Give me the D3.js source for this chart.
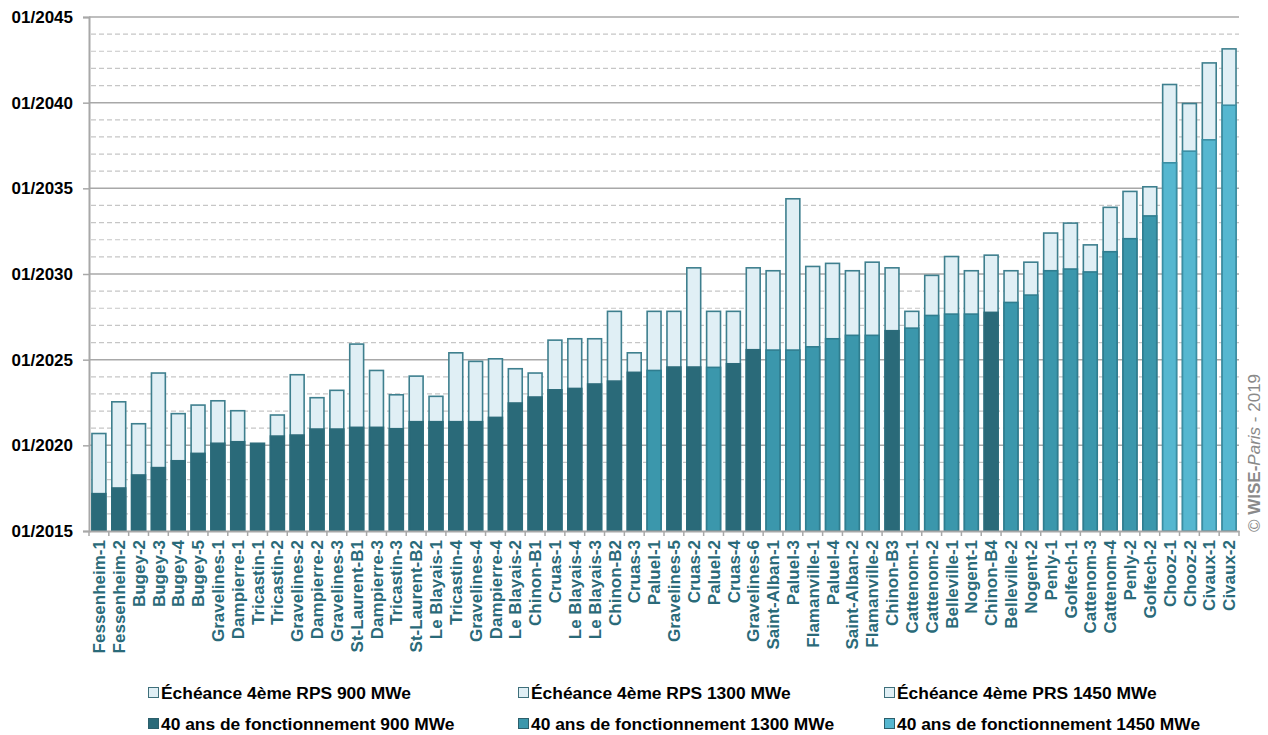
<!DOCTYPE html>
<html>
<head>
<meta charset="utf-8">
<script src="https://cdn.jsdelivr.net/npm/d3@7"></script>
<style>
  html, body { margin: 0; padding: 0; background: #ffffff; }
  svg { display: block; font-family: "Liberation Sans", Arial, sans-serif; }
</style>
</head>
<body>
<svg id="chart" width="1268" height="735"></svg>
<script>
// ---------- data ----------
const reactors = ["Fessenheim-1","Fessenheim-2","Bugey-2","Bugey-3","Bugey-4","Bugey-5","Gravelines-1","Dampierre-1","Tricastin-1","Tricastin-2","Gravelines-2","Dampierre-2","Gravelines-3","St-Laurent-B1","Dampierre-3","Tricastin-3","St-Laurent-B2","Le Blayais-1","Tricastin-4","Gravelines-4","Dampierre-4","Le Blayais-2","Chinon-B1","Cruas-1","Le Blayais-4","Le Blayais-3","Chinon-B2","Cruas-3","Paluel-1","Gravelines-5","Cruas-2","Paluel-2","Cruas-4","Gravelines-6","Saint-Alban-1","Paluel-3","Flamanville-1","Paluel-4","Saint-Alban-2","Flamanville-2","Chinon-B3","Cattenom-1","Cattenom-2","Belleville-1","Nogent-1","Chinon-B4","Belleville-2","Nogent-2","Penly-1","Golfech-1","Cattenom-3","Cattenom-4","Penly-2","Golfech-2","Chooz-1","Chooz-2","Civaux-1","Civaux-2"];
const power = [900,900,900,900,900,900,900,900,900,900,900,900,900,900,900,900,900,900,900,900,900,900,900,900,900,900,900,900,1300,900,900,1300,900,900,1300,1300,1300,1300,1300,1300,900,1300,1300,1300,1300,900,1300,1300,1300,1300,1300,1300,1300,1300,1450,1450,1450,1450];
// date of 40 years of operation (decimal year)
const fortyYears = [2017.18,2017.51,2018.27,2018.70,2019.10,2019.53,2020.12,2020.21,2020.12,2020.54,2020.60,2020.95,2020.95,2021.05,2021.05,2020.97,2021.38,2021.38,2021.38,2021.38,2021.63,2022.47,2022.82,2023.24,2023.32,2023.58,2023.75,2024.26,2024.37,2024.57,2024.57,2024.55,2024.76,2025.58,2025.56,2025.56,2025.75,2026.22,2026.42,2026.42,2026.69,2026.84,2027.58,2027.66,2027.66,2027.76,2028.34,2028.77,2030.19,2030.29,2030.12,2031.30,2032.06,2033.39,2036.49,2037.17,2037.83,2039.85];
// deadline of 4th periodic safety review (decimal year)
const rpsDeadline = [2020.69,2022.54,2021.26,2024.22,2021.85,2022.35,2022.60,2022.02,2020.00,2021.77,2024.12,2022.78,2023.21,2025.91,2024.37,2022.95,2024.04,2022.86,2025.40,2024.90,2025.05,2024.47,2024.22,2026.14,2026.22,2026.22,2027.82,2025.40,2027.82,2027.82,2030.36,2027.82,2027.82,2030.36,2030.19,2034.39,2030.44,2030.62,2030.19,2030.69,2030.36,2027.82,2029.92,2031.02,2030.19,2031.10,2030.19,2030.69,2032.39,2032.97,2031.70,2033.89,2034.82,2035.09,2041.06,2039.95,2042.32,2043.14];
const yearTicks = [2015,2020,2025,2030,2035,2040,2045];
const legendLabels = ["Échéance 4ème RPS 900 MWe","Échéance 4ème RPS 1300 MWe","Échéance 4ème PRS 1450 MWe","40 ans de fonctionnement 900 MWe","40 ans de fonctionnement 1300 MWe","40 ans de fonctionnement 1450 MWe"];
const legendPower = [900,1300,1450,900,1300,1450];

// ---------- styles ----------
const darkColor = {900: "#2a6a79", 1300: "#3b97ac", 1450: "#56b7d0"};
const strokeColor = {900: "#2c6b7a", 1300: "#2f7d8f", 1450: "#3a8ea3"};
const lightFill = "#e0eff5";
const lightStroke = "#3e7f8e";

const svg = d3.select("#chart");
const plotLeft = 89, plotRight = 1239, plotTop = 17, plotBottom = 531;

const x = d3.scaleBand().domain(reactors).range([plotLeft, plotRight]).paddingInner(0.3).paddingOuter(0.15);
const y = d3.scaleLinear().domain([2015, 2045]).range([plotBottom, plotTop]);

// minor grid (yearly dashed)
const minorYears = d3.range(2016, 2045).filter(v => v % 5 !== 0);
svg.append("g").selectAll("line").data(minorYears).join("line")
  .attr("x1", plotLeft + 2).attr("x2", plotRight)
  .attr("y1", d => y(d)).attr("y2", d => y(d))
  .attr("stroke", "#c6c6c6").attr("stroke-width", 1.2).attr("stroke-dasharray", "5,3");

// major grid
svg.append("g").selectAll("line").data(yearTicks.filter(v => v > 2015)).join("line")
  .attr("x1", plotLeft).attr("x2", plotRight)
  .attr("y1", d => y(d)).attr("y2", d => y(d))
  .attr("stroke", "#a8a8a8").attr("stroke-width", 1.5);

// bars
const data = reactors.map((n, i) => ({name: n, p: power[i], forty: fortyYears[i], rps: rpsDeadline[i]}));
const bars = svg.append("g");
bars.selectAll("rect.light").data(data.filter(d => d.rps > d.forty)).join("rect")
  .attr("class", "light")
  .attr("x", d => x(d.name)).attr("width", x.bandwidth())
  .attr("y", d => y(d.rps)).attr("height", d => y(2015) - y(d.rps))
  .attr("fill", lightFill).attr("stroke", lightStroke).attr("stroke-width", 1.6);
bars.selectAll("rect.dark").data(data).join("rect")
  .attr("class", "dark")
  .attr("x", d => x(d.name)).attr("width", x.bandwidth())
  .attr("y", d => y(d.forty)).attr("height", d => y(2015) - y(d.forty))
  .attr("fill", d => darkColor[d.p]).attr("stroke", d => strokeColor[d.p]).attr("stroke-width", 1.6);

// y axis
const yAxis = d3.axisLeft(y).tickValues(yearTicks).tickSize(6).tickPadding(10).tickFormat(d => "01/" + d);
const gy = svg.append("g").attr("transform", `translate(${plotLeft},0)`).call(yAxis);
gy.select(".domain").attr("stroke", "#a8a8a8").attr("stroke-width", 2);
gy.selectAll(".tick line").attr("stroke", "#a8a8a8").attr("stroke-width", 1.5);
gy.selectAll(".tick text").attr("font-size", 17).attr("font-weight", "bold").attr("fill", "#000")
  .attr("font-family", "Liberation Sans, Arial, sans-serif");

// x axis
const xAxis = d3.axisBottom(x).tickSize(0).tickPadding(0);
const gx = svg.append("g").attr("transform", `translate(0,${plotBottom})`).call(xAxis);
gx.select(".domain").attr("stroke", "#a8a8a8").attr("stroke-width", 2);
gx.selectAll(".tick text")
  .attr("transform", "rotate(-90)")
  .attr("x", -9).attr("y", 0).attr("dy", "0.36em")
  .attr("text-anchor", "end")
  .attr("font-size", 17).attr("font-weight", "bold").attr("fill", "#2a6a79")
  .attr("font-family", "Liberation Sans, Arial, sans-serif");
// tick marks between categories
const boundaries = d3.range(reactors.length + 1).map(i => plotLeft + i * x.step());
svg.append("g").selectAll("line").data(boundaries).join("line")
  .attr("x1", d => d).attr("x2", d => d)
  .attr("y1", plotBottom).attr("y2", plotBottom + 5)
  .attr("stroke", "#a8a8a8").attr("stroke-width", 1.5);

// legend
const legX = [148, 518, 884];
const legY = [693, 724];
const leg = svg.append("g");
legendLabels.forEach((lab, i) => {
  const col = i % 3, row = Math.floor(i / 3);
  const g = leg.append("g").attr("transform", `translate(${legX[col]},${legY[row]})`);
  g.append("rect").attr("x", 0.5).attr("y", -5.5).attr("width", 10).attr("height", 10)
    .attr("fill", row === 0 ? lightFill : darkColor[legendPower[i]])
    .attr("stroke", row === 0 ? "#3e6f7a" : "#2c5f6b").attr("stroke-width", 1);
  g.append("text").attr("x", 13).attr("y", 0).attr("dy", "0.35em")
    .attr("font-size", 17.4).attr("font-weight", "bold").attr("fill", "#000").text(lab);
});

// watermark
const wm = svg.append("text")
  .attr("transform", "translate(1260,532) rotate(-90)")
  .attr("font-size", 17).attr("fill", "#8a8a8a");
wm.append("tspan").text("© ");
wm.append("tspan").attr("font-weight", "bold").text("WISE");
wm.append("tspan").attr("font-weight", "bold").text("-");
wm.append("tspan").attr("font-style", "italic").text("Paris");
wm.append("tspan").text(" - 2019");
</script>
</body>
</html>
